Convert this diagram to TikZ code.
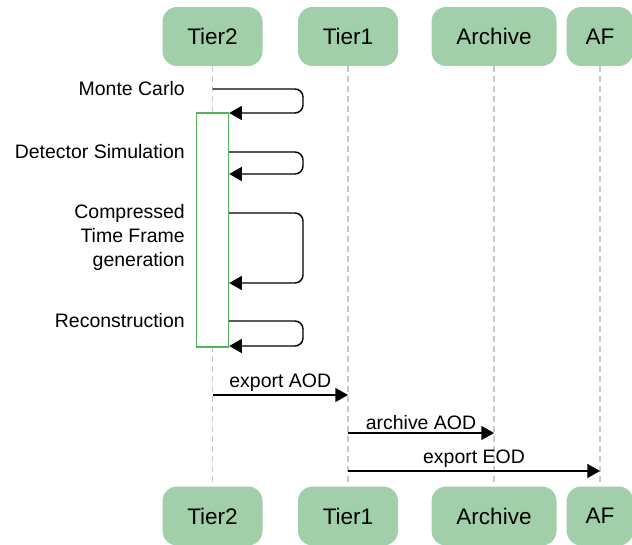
\documentclass[tikz,border=0pt]{standalone}
\usepackage{fontspec}
\setmainfont{Liberation Sans}
\usetikzlibrary{arrows.meta}
\definecolor{boxgreen}{HTML}{A0CFAA}
\definecolor{actgreen}{HTML}{52B25C}
\definecolor{lifegray}{HTML}{C8C8C8}
\begin{document}
\begin{tikzpicture}[x=0.75pt,y=-0.75pt,
  actor/.style={fill=boxgreen, rounded corners=11pt, minimum height=44.25pt,
    inner sep=0pt, font=\fontsize{16.9}{20}\selectfont},
  lifeline/.style={draw=lifegray, line width=0.8pt, dash pattern=on 4.5pt off 3pt},
  msg/.style={line width=1.1pt, -{Triangle[length=9.5pt,width=10.5pt]}},
  selfmsg/.style={msg, rounded corners=6pt},
  lbl/.style={font=\fontsize{14.6}{18}\selectfont, inner sep=0pt},
  msglbl/.style={lbl, anchor=south, yshift=2.2pt},
]
\useasboundingbox (0,0) rectangle (632,545);

% participants, top and bottom
\node[actor, minimum width=75pt]    (t2top) at (212.5,36.5) {Tier2};
\node[actor, minimum width=75pt]    (t1top) at (348,36.5)   {Tier1};
\node[actor, minimum width=93.75pt] (artop) at (494,36.5)   {Archive};
\node[actor, minimum width=50pt]    (aftop) at (600,36.5)   {AF};

\node[actor, minimum width=75pt]    (t2bot) at (212.5,516) {Tier2};
\node[actor, minimum width=75pt]    (t1bot) at (348,516)   {Tier1};
\node[actor, minimum width=93.75pt] (arbot) at (494,516)   {Archive};
\node[actor, minimum width=50pt]    (afbot) at (600,516)   {AF};

% lifelines
\draw[lifeline] (t2top.south) -- (t2bot.north);
\draw[lifeline] (t1top.south) -- (t1bot.north);
\draw[lifeline] (artop.south) -- (arbot.north);
\draw[lifeline] (aftop.south) -- (afbot.north);

% activation bar on Tier2
\node[draw=actgreen, fill=white, line width=1pt, minimum width=24pt,
      minimum height=175.5pt, inner sep=0pt] (act) at (212.5,230) {};

% self messages on Tier2
\coordinate (mc1) at (212.5,89);
\coordinate (mc2) at (act.east |- 0,113);
\draw[selfmsg] (mc1) -- (303,89) |- (mc2);
\node[lbl, anchor=east] (mclbl) at (185,89) {Monte Carlo};

\coordinate (ds1) at (act.east |- 0,152);
\coordinate (ds2) at (act.east |- 0,174);
\draw[selfmsg] (ds1) -- (303,152) |- (ds2);
\node[lbl, anchor=east] (dslbl) at (185,152) {Detector Simulation};

\coordinate (ctf1) at (act.east |- 0,213);
\coordinate (ctf2) at (act.east |- 0,283);
\draw[selfmsg] (ctf1) -- (303,213) |- (ctf2);
\node[lbl, anchor=east, align=right] (ctflbl) at (185,237)
  {Compressed\\Time Frame\\generation};

\coordinate (rc1) at (act.east |- 0,321);
\coordinate (rc2) at (act.east |- 0,346);
\draw[selfmsg] (rc1) -- (303,321) |- (rc2);
\node[lbl, anchor=east] (rclbl) at (185,321) {Reconstruction};

% data movement between sites
\coordinate (ea1) at (212.5,395);
\coordinate (ea2) at (348,395);
\draw[msg] (ea1) -- node[msglbl] (ealbl) {export AOD} (ea2);

\coordinate (aa1) at (348,433);
\coordinate (aa2) at (494,433);
\draw[msg] (aa1) -- node[msglbl] (aalbl) {archive AOD} (aa2);

\coordinate (ee1) at (348,471);
\coordinate (ee2) at (600,471);
\draw[msg] (ee1) -- node[msglbl] (eelbl) {export EOD} (ee2);
\end{tikzpicture}
\end{document}
